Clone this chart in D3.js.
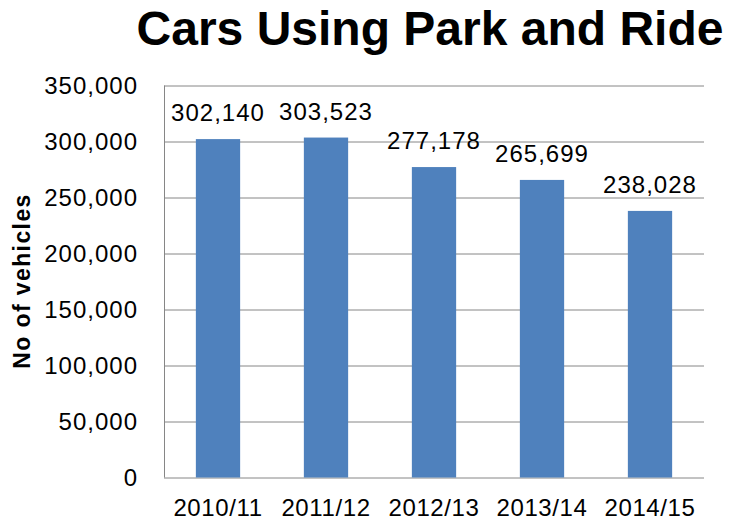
<!DOCTYPE html>
<html lang="en">
<head>
  <meta charset="UTF-8">
  <title>Cars Using Park and Ride</title>
  <script src="https://d3js.org/d3.v7.min.js"></script>
  <style>
    body { margin: 0; background: #fff; }
    text { font-family: "Liberation Sans", Arial, sans-serif; fill: #000; }
    .gridlines line { stroke: #868686; }
    .gridlines .domain { stroke: none; }
  </style>
</head>
<body>
  <svg id="chart" width="731" height="524"></svg>
  <script>
    const years = ['2010/11', '2011/12', '2012/13', '2013/14', '2014/15'];
    const vehicles = [302140, 303523, 277178, 265699, 238028];
    const yTicks = [0, 50000, 100000, 150000, 200000, 250000, 300000, 350000];

    const data = years.map((y, i) => ({ year: y, value: vehicles[i] }));

    const svg = d3.select('#chart');
    const margins = { top: 85.5, right: 27, bottom: 46.5, left: 164 };
    const width = +svg.attr('width');
    const height = +svg.attr('height');

    const xScale = d3.scaleBand()
      .domain(years)
      .range([margins.left, width - margins.right])
      .paddingInner(0.59)
      .paddingOuter(0.295);

    const yScale = d3.scaleLinear()
      .domain([0, 350000])
      .range([height - margins.bottom, margins.top]);

    const fmt = d3.format(',');

    // horizontal gridlines
    let leftGridlines = d3.axisLeft(yScale)
      .tickValues(yTicks)
      .tickSize(-(width - margins.right - margins.left))
      .tickFormat('');
    svg.append('g')
      .attr('class', 'gridlines')
      .attr('transform', `translate(${margins.left},0)`)
      .call(leftGridlines);

    // left axis line
    svg.append('line')
      .attr('x1', margins.left + 0.5).attr('x2', margins.left + 0.5)
      .attr('y1', yScale(350000)).attr('y2', yScale(0))
      .attr('stroke', '#868686');

    // y tick labels
    svg.append('g').selectAll('text').data(yTicks)
      .join('text')
      .attr('x', margins.left - 26)
      .attr('y', d => yScale(d) + 8)
      .attr('text-anchor', 'end')
      .attr('font-size', '24px')
      .attr('letter-spacing', '1px')
      .text(d => fmt(d));

    // bars
    svg.selectAll('rect.bar').data(data)
      .join('rect').attr('class', 'bar')
      .attr('fill', '#4F81BD')
      .attr('x', d => xScale(d.year))
      .attr('y', d => yScale(d.value))
      .attr('width', xScale.bandwidth())
      .attr('height', d => yScale(0) - yScale(d.value));

    // data labels
    svg.selectAll('text.label').data(data)
      .join('text').attr('class', 'label')
      .attr('x', d => xScale(d.year) + xScale.bandwidth() / 2)
      .attr('y', d => yScale(d.value) - 18)
      .attr('text-anchor', 'middle')
      .attr('font-size', '24px')
      .attr('letter-spacing', '1px')
      .text(d => fmt(d.value));

    // x category labels
    svg.selectAll('text.cat').data(years)
      .join('text').attr('class', 'cat')
      .attr('x', d => xScale(d) + xScale.bandwidth() / 2)
      .attr('y', 516)
      .attr('text-anchor', 'middle')
      .attr('font-size', '24px')
      .attr('letter-spacing', '0.6px')
      .text(d => d);

    // y axis title
    svg.append('text')
      .attr('transform', 'translate(30,281) rotate(-90)')
      .attr('text-anchor', 'middle')
      .attr('font-size', '23px')
      .attr('font-weight', 'bold')
      .attr('letter-spacing', '1.4px')
      .text('No of vehicles');

    // title
    svg.append('text')
      .attr('x', 430)
      .attr('y', 45)
      .attr('text-anchor', 'middle')
      .attr('font-size', '48px')
      .attr('font-weight', 'bold')
      .text('Cars Using Park and Ride');
  </script>
</body>
</html>
